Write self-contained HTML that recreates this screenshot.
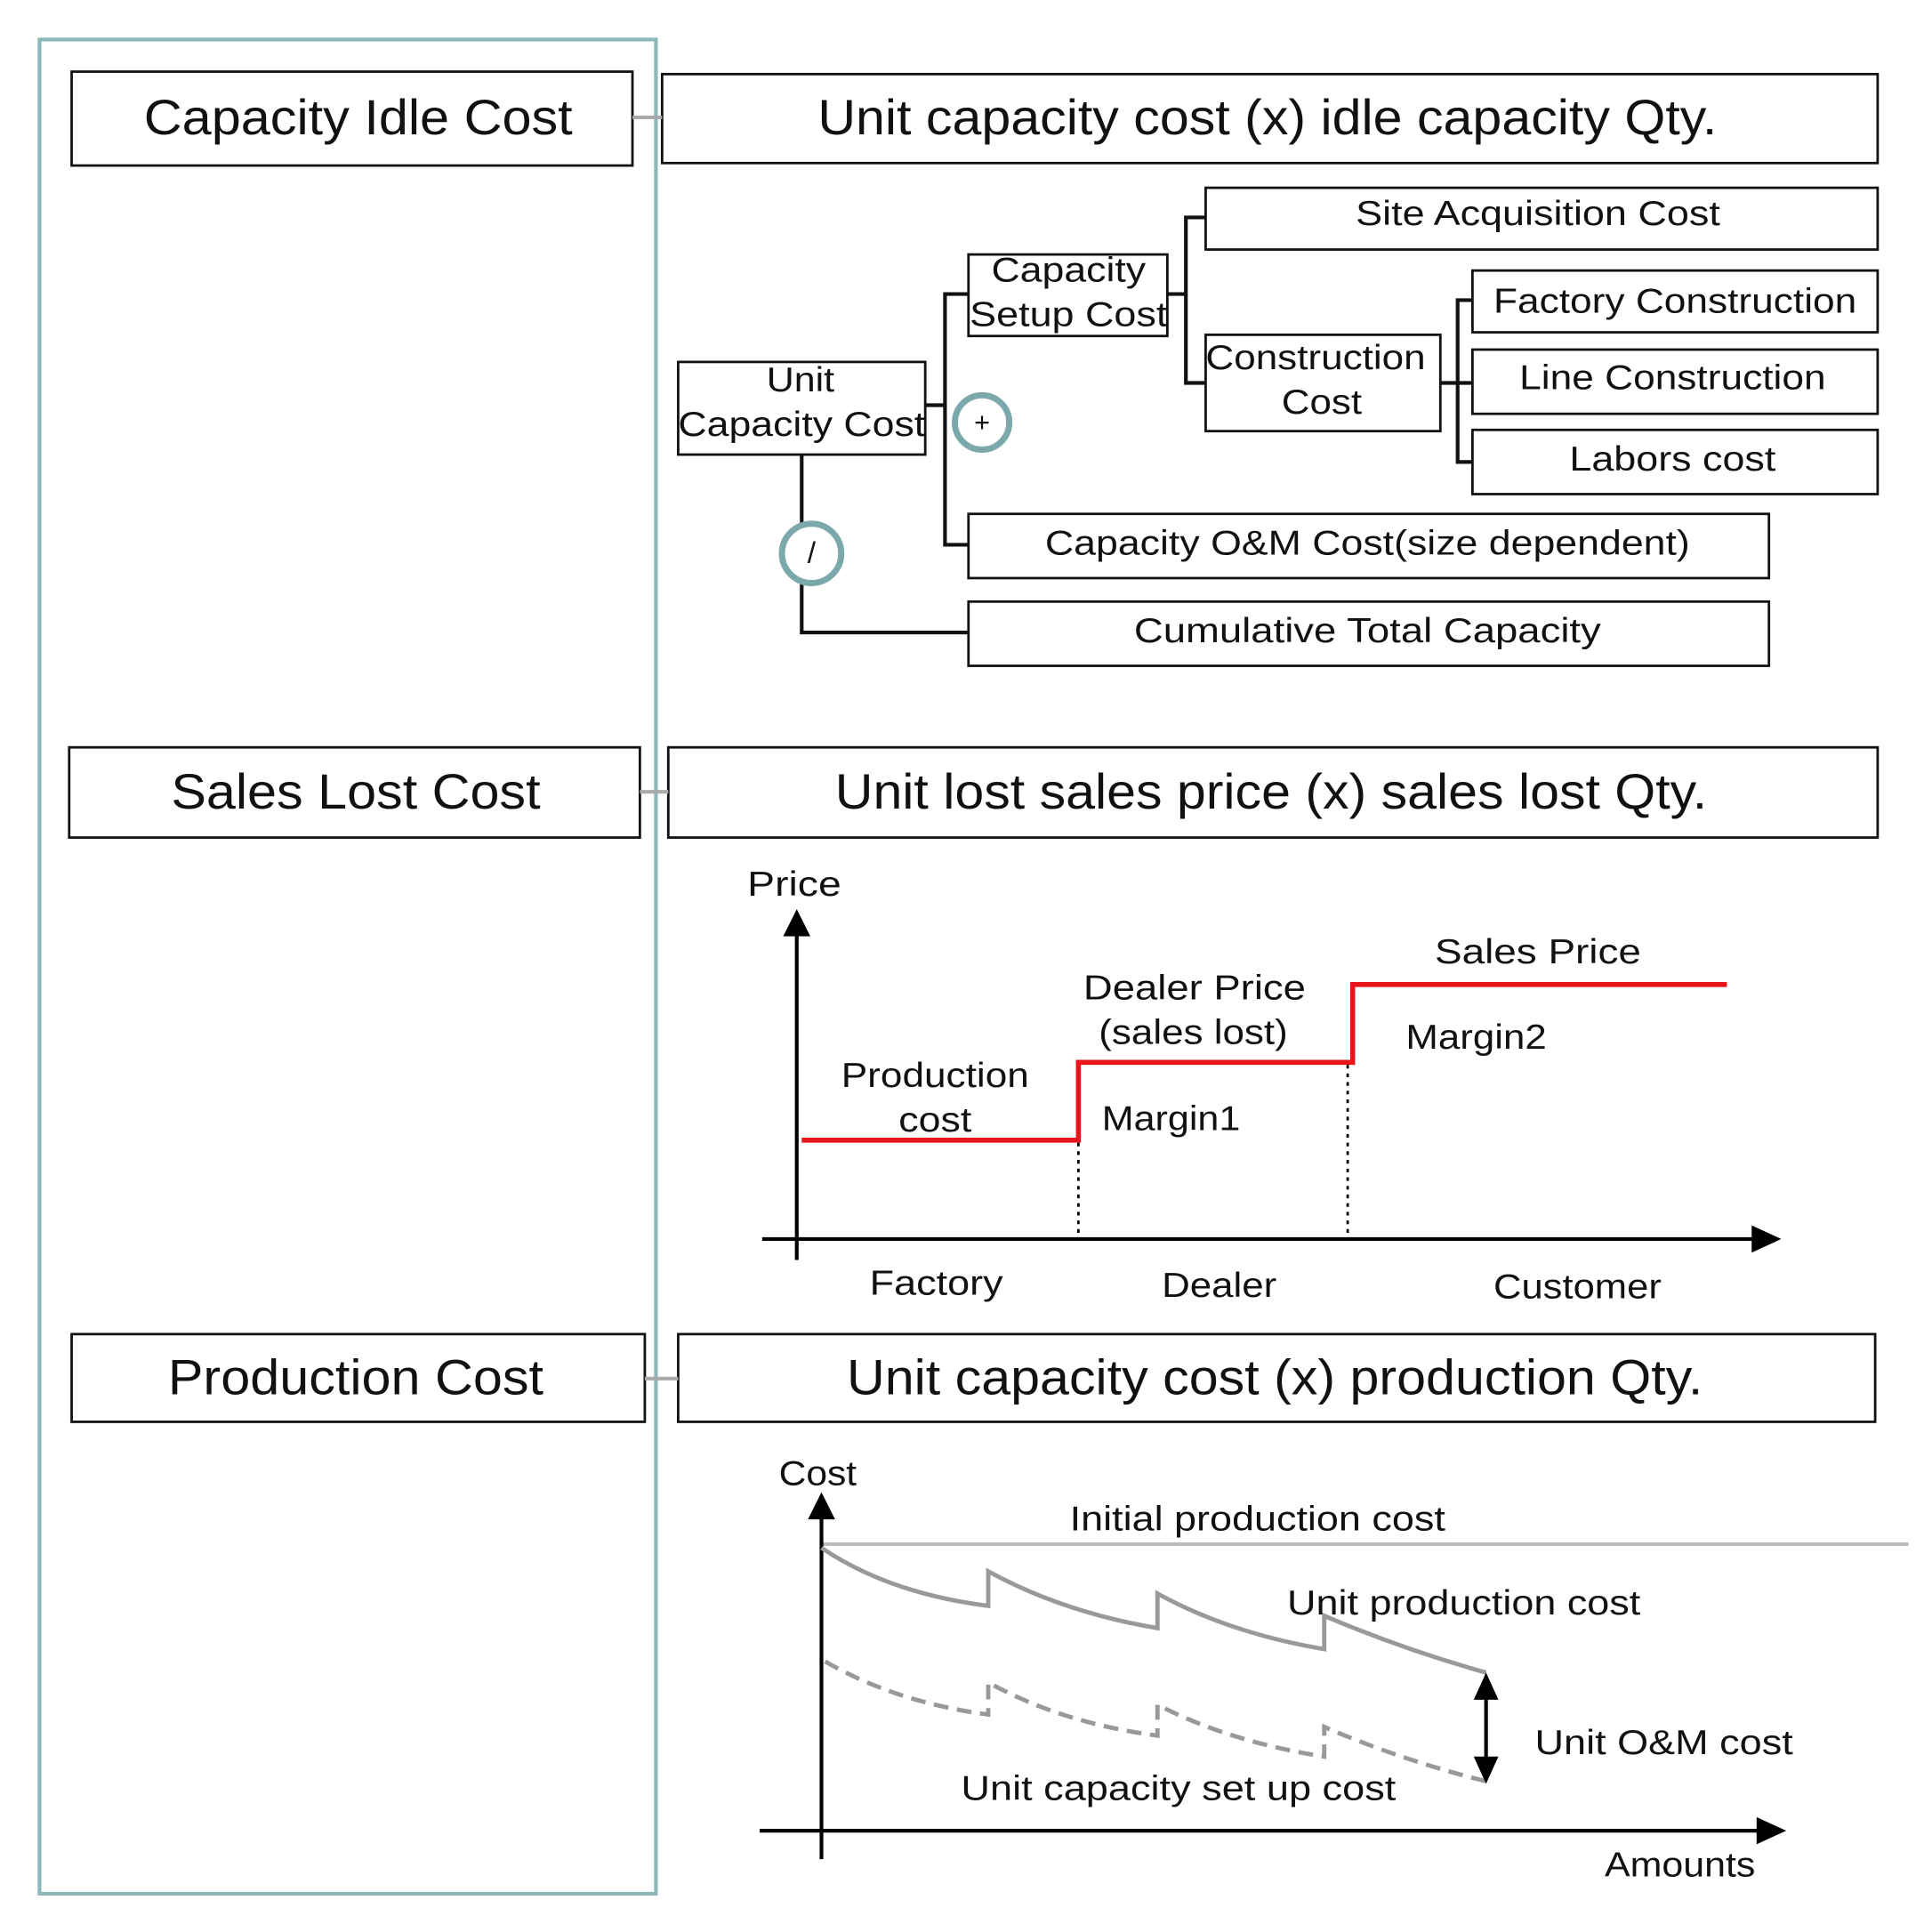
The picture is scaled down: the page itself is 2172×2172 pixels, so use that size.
<!DOCTYPE html>
<html><head><meta charset="utf-8"><style>
html,body{margin:0;padding:0;background:#fff;}
svg{display:block;}
text{font-family:"Liberation Sans",Arial,sans-serif;fill:#111;text-anchor:middle;dominant-baseline:central;}
</style></head><body>
<svg width="2172" height="2172" viewBox="0 0 1564 1564" xmlns="http://www.w3.org/2000/svg">
<rect x="32" y="32" width="499" height="1501" fill="none" stroke="#8bb8b8" stroke-width="3"/>

<g fill="#fff" stroke="#111" stroke-width="2">
<rect x="58" y="58" width="454" height="76"/>
<rect x="536" y="60" width="984" height="72"/>
<rect x="976" y="152" width="544" height="50"/>
<rect x="784" y="206" width="161" height="66"/>
<rect x="976" y="271" width="190" height="78"/>
<rect x="1192" y="219" width="328" height="50"/>
<rect x="1192" y="283" width="328" height="52"/>
<rect x="1192" y="348" width="328" height="52"/>
<rect x="549" y="293" width="200" height="75"/>
<rect x="784" y="416" width="648" height="52"/>
<rect x="784" y="487" width="648" height="52"/>
<rect x="56" y="605" width="462" height="73"/>
<rect x="541" y="605" width="979" height="73"/>
<rect x="58" y="1080" width="464" height="71"/>
<rect x="549" y="1080" width="969" height="71"/>
</g>
<g stroke="#aaa" stroke-width="3">
<line x1="512" y1="95" x2="536" y2="95"/>
<line x1="518" y1="641" x2="541" y2="641"/>
<line x1="522" y1="1116" x2="549" y2="1116"/>
</g>
<g stroke="#111" stroke-width="3" fill="none">
<path d="M749,328 H765 M784,238 H765 V441 H784"/>
<path d="M945,238 H960 M976,176 H960 V310 H976"/>
<path d="M1166,310 H1192 M1192,243 H1180 V374 H1192"/>
<path d="M649,368 V512 H784"/>
</g>
<circle cx="795" cy="342" r="22" fill="#fff" stroke="#7aa8ab" stroke-width="5"/>
<text x="795" y="342" font-size="22">+</text>
<circle cx="657" cy="448" r="24" fill="#fff" stroke="#7aa8ab" stroke-width="5"/>
<text x="657" y="448" font-size="24">/</text>

<g lengthAdjust="spacingAndGlyphs">
<text x="290" y="95" font-size="40" textLength="347" lengthAdjust="spacingAndGlyphs">Capacity Idle Cost</text>
<text x="1026" y="95" font-size="40" textLength="728" lengthAdjust="spacingAndGlyphs">Unit capacity cost (x) idle capacity Qty.</text>
<text x="1245" y="173" font-size="28" textLength="295" lengthAdjust="spacingAndGlyphs">Site Acquisition Cost</text>
<text x="865" y="219" font-size="28" textLength="125" lengthAdjust="spacingAndGlyphs">Capacity</text>
<text x="865" y="255" font-size="28" textLength="160" lengthAdjust="spacingAndGlyphs">Setup Cost</text>
<text x="1065" y="290" font-size="28" textLength="178" lengthAdjust="spacingAndGlyphs">Construction</text>
<text x="1070" y="326" font-size="28" textLength="65" lengthAdjust="spacingAndGlyphs">Cost</text>
<text x="1356" y="244" font-size="28" textLength="294" lengthAdjust="spacingAndGlyphs">Factory Construction</text>
<text x="1354" y="306" font-size="28" textLength="248" lengthAdjust="spacingAndGlyphs">Line Construction</text>
<text x="1354" y="372" font-size="28" textLength="167" lengthAdjust="spacingAndGlyphs">Labors cost</text>
<text x="648" y="308" font-size="28" textLength="55" lengthAdjust="spacingAndGlyphs">Unit</text>
<text x="649" y="344" font-size="28" textLength="200" lengthAdjust="spacingAndGlyphs">Capacity Cost</text>
<text x="1107" y="440" font-size="28" textLength="522" lengthAdjust="spacingAndGlyphs">Capacity O&amp;M Cost(size dependent)</text>
<text x="1107" y="511" font-size="28" textLength="378" lengthAdjust="spacingAndGlyphs">Cumulative Total Capacity</text>
<text x="288" y="641" font-size="40" textLength="299" lengthAdjust="spacingAndGlyphs">Sales Lost Cost</text>
<text x="1029" y="641" font-size="40" textLength="706" lengthAdjust="spacingAndGlyphs">Unit lost sales price (x) sales lost Qty.</text>
<text x="288" y="1115" font-size="40" textLength="304" lengthAdjust="spacingAndGlyphs">Production Cost</text>
<text x="1032" y="1115" font-size="40" textLength="693" lengthAdjust="spacingAndGlyphs">Unit capacity cost (x) production Qty.</text>
</g>

<!-- price chart -->
<g stroke="#000" stroke-width="3" fill="none">
<line x1="645" y1="1020" x2="645" y2="750"/>
<line x1="617" y1="1003" x2="1425" y2="1003"/>
</g>
<path d="M645,736 L634,758 L656,758 z" fill="#000"/>
<path d="M1442,1003 L1418,992 L1418,1014 z" fill="#000"/>
<g stroke="#000" stroke-width="2" stroke-dasharray="3,4">
<line x1="873" y1="925" x2="873" y2="1000"/>
<line x1="1091" y1="862" x2="1091" y2="1000"/>
</g>
<path d="M649,923 H873 V860 H1095 V797 H1398" stroke="#e8141a" stroke-width="4" fill="none"/>
<text x="643" y="716" font-size="28" textLength="76" lengthAdjust="spacingAndGlyphs">Price</text>
<text x="757" y="871" font-size="28" textLength="152" lengthAdjust="spacingAndGlyphs">Production</text>
<text x="757" y="907" font-size="28" textLength="59" lengthAdjust="spacingAndGlyphs">cost</text>
<text x="967" y="800" font-size="28" textLength="180" lengthAdjust="spacingAndGlyphs">Dealer Price</text>
<text x="966" y="836" font-size="28" textLength="153" lengthAdjust="spacingAndGlyphs">(sales lost)</text>
<text x="948" y="906" font-size="28" textLength="112" lengthAdjust="spacingAndGlyphs">Margin1</text>
<text x="1245" y="771" font-size="28" textLength="167" lengthAdjust="spacingAndGlyphs">Sales Price</text>
<text x="1195" y="840" font-size="28" textLength="114" lengthAdjust="spacingAndGlyphs">Margin2</text>
<text x="758" y="1039" font-size="28" textLength="108" lengthAdjust="spacingAndGlyphs">Factory</text>
<text x="987" y="1041" font-size="28" textLength="93" lengthAdjust="spacingAndGlyphs">Dealer</text>
<text x="1277" y="1042" font-size="28" textLength="136" lengthAdjust="spacingAndGlyphs">Customer</text>

<!-- cost chart -->
<line x1="665" y1="1250" x2="1545" y2="1250" stroke="#bbb" stroke-width="3"/>
<g stroke="#000" stroke-width="3" fill="none">
<line x1="665" y1="1505" x2="665" y2="1225"/>
<line x1="615" y1="1482" x2="1428" y2="1482"/>
</g>
<path d="M665,1208 L654,1230 L676,1230 z" fill="#000"/>
<path d="M1446,1482 L1422,1471 L1422,1493 z" fill="#000"/>
<path d="M665,1253 Q720,1290 800,1300 V1272 Q860,1305 937,1318 V1290 Q995,1322 1072,1335 V1308 Q1135,1335 1203,1354" stroke="#999" stroke-width="3.5" fill="none"/>
<path d="M668,1345 Q725,1378 800,1388 V1362 Q860,1395 937,1405 V1380 Q995,1410 1072,1422 V1398 Q1135,1425 1203,1442" stroke="#999" stroke-width="3.5" fill="none" stroke-dasharray="12,7"/>
<line x1="1203" y1="1372" x2="1203" y2="1425" stroke="#000" stroke-width="3"/>
<path d="M1203,1354 L1193,1376 L1213,1376 z M1203,1444 L1193,1422 L1213,1422 z" fill="#000"/>
<text x="662" y="1193" font-size="28" textLength="63" lengthAdjust="spacingAndGlyphs">Cost</text>
<text x="1018" y="1230" font-size="28" textLength="304" lengthAdjust="spacingAndGlyphs">Initial production cost</text>
<text x="1185" y="1298" font-size="28" textLength="286" lengthAdjust="spacingAndGlyphs">Unit production cost</text>
<text x="1347" y="1411" font-size="28" textLength="209" lengthAdjust="spacingAndGlyphs">Unit O&amp;M cost</text>
<text x="954" y="1448" font-size="28" textLength="352" lengthAdjust="spacingAndGlyphs">Unit capacity set up cost</text>
<text x="1360" y="1510" font-size="28" textLength="122" lengthAdjust="spacingAndGlyphs">Amounts</text>
</svg>
</body></html>
